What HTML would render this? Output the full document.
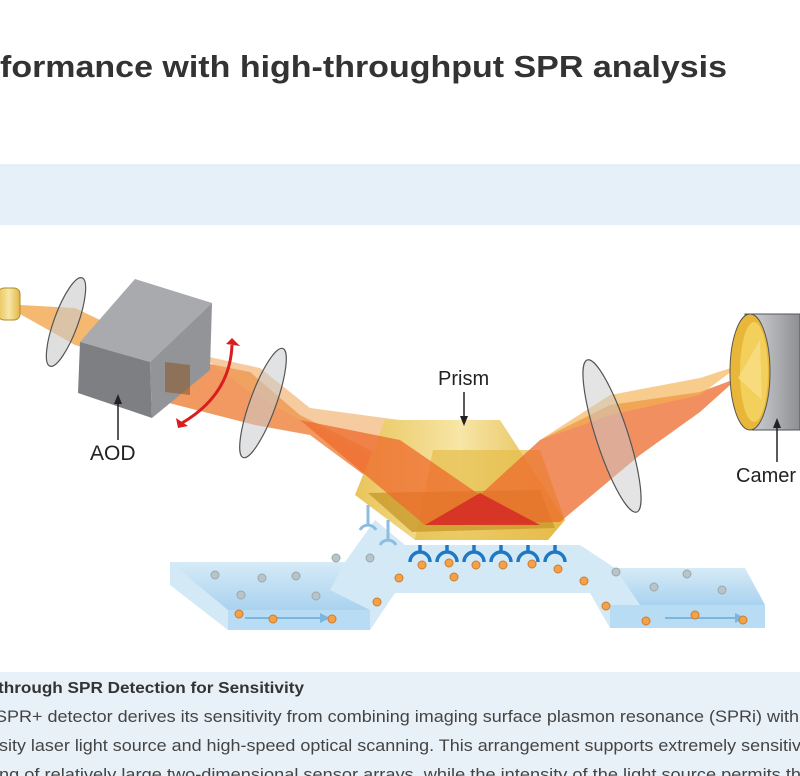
<!DOCTYPE html>
<html><head><meta charset="utf-8"><style>
html,body{margin:0;padding:0;background:#fff;width:800px;height:776px;overflow:hidden}
svg{display:block}
</style></head><body>
<svg width="800" height="776" viewBox="0 0 800 776" xmlns="http://www.w3.org/2000/svg" font-family="Liberation Sans, sans-serif">
<defs>
<linearGradient id="gold" x1="0" y1="0" x2="1" y2="0"><stop offset="0" stop-color="#e9c45a"/><stop offset="0.5" stop-color="#f7e6a6"/><stop offset="1" stop-color="#e2b746"/></linearGradient>
<linearGradient id="cam" x1="0" y1="0" x2="1" y2="0"><stop offset="0" stop-color="#d7d8da"/><stop offset="1" stop-color="#8d8f93"/></linearGradient>
<linearGradient id="chan" x1="0" y1="0" x2="0" y2="1"><stop offset="0" stop-color="#d6ebf7"/><stop offset="1" stop-color="#9fcdee"/></linearGradient>
</defs>
<rect width="800" height="776" fill="#fff"/>
<text x="0" y="77" font-size="31" font-weight="bold" fill="#333" textLength="727" lengthAdjust="spacingAndGlyphs">formance with high-throughput SPR analysis</text>
<rect x="0" y="165" width="800" height="60" fill="#e6f0f8"/>
<line x1="0" y1="165" x2="800" y2="165" stroke="#dbe8f2"/>

<!-- channel -->
<polygon points="170,562 345,562 375,520 405,545 580,545 615,568 745,568 765,605 765,628 610,628 590,593 395,593 370,630 228,630 170,585" fill="#d3e9f6"/>
<polygon points="170,562 345,562 330,590 370,610 228,610" fill="url(#chan)" opacity="0.8"/>
<polygon points="615,568 745,568 765,605 640,605" fill="url(#chan)" opacity="0.8"/>
<polygon points="228,610 370,610 370,630 228,630" fill="#b8dcf3"/>
<polygon points="610,605 765,605 765,628 610,628" fill="#b8dcf3"/>
<line x1="245" y1="618" x2="320" y2="618" stroke="#7ab6df" stroke-width="2"/>
<polygon points="320,613 330,618 320,623" fill="#7ab6df"/>
<line x1="665" y1="618" x2="735" y2="618" stroke="#7ab6df" stroke-width="2"/>
<polygon points="735,613 745,618 735,623" fill="#7ab6df"/>

<!-- beams left -->
<polygon points="20,305 75,308 100,320 100,352 75,345 20,314" fill="#f0a040" opacity="0.75"/>
<ellipse cx="66" cy="322" rx="12" ry="47" transform="rotate(20 66 322)" fill="#c9cacc" fill-opacity="0.6" stroke="#555" stroke-width="1.2"/>
<rect x="-2" y="288" width="22" height="32" rx="6" fill="url(#gold)" stroke="#b08a20"/>
<polygon points="165,355 250,372 300,415 400,465 425,520 310,435 255,425 165,402" fill="#ee7f3a" opacity="0.8"/>
<polygon points="200,355 260,368 310,408 400,420 480,495 450,500 300,420 250,392" fill="#f0a860" opacity="0.6"/>
<!-- cube -->
<polygon points="80,342 135,279 212,303 150,362" fill="#a9aaad"/>
<polygon points="80,342 150,362 152,418 78,393" fill="#7d7f83"/>
<polygon points="150,362 212,303 210,370 152,418" fill="#929497"/>
<polygon points="165,362 190,365 190,395 165,392" fill="#8a5a30" opacity="0.6"/>
<ellipse cx="263" cy="403" rx="13" ry="58" transform="rotate(20 263 403)" fill="#c9cacc" fill-opacity="0.55" stroke="#555" stroke-width="1.2"/>
<path d="M232,345 Q230,395 182,423" stroke="#d81e1e" stroke-width="3" fill="none"/>
<polygon points="226,344 240,346 232,338" fill="#d81e1e"/>
<polygon points="176,418 178,428 188,426" fill="#d81e1e"/>

<!-- prism -->
<polygon points="385,420 500,420 565,520 548,540 415,540 355,495" fill="url(#gold)"/>
<polygon points="433,450 540,450 565,520 548,540 415,540" fill="#e6be4a" opacity="0.7"/>
<polygon points="368,493 540,490 555,528 412,532" fill="#c99a2a" opacity="0.8"/>
<polygon points="300,420 400,440 480,495 425,525" fill="#ee6a2c" opacity="0.75"/>
<polygon points="480,495 540,440 610,405 700,392 738,378 700,412 640,455 560,522 425,525" fill="#ee6a2c" opacity="0.75"/>
<polygon points="425,525 480,493 540,525" fill="#d42a24" opacity="0.85"/>
<polygon points="540,440 610,395 700,378 740,365 700,395 610,415" fill="#f3b050" opacity="0.65"/>
<ellipse cx="612" cy="436" rx="16" ry="80" transform="rotate(-18 612 436)" fill="#c9cacc" fill-opacity="0.5" stroke="#555" stroke-width="1.2"/>
<!-- camera -->
<path d="M745,314 L800,314 L800,430 L752,430 Z" fill="url(#cam)" stroke="#555"/>
<ellipse cx="750" cy="372" rx="20" ry="58" fill="#e8b73a" stroke="#555"/>
<ellipse cx="754" cy="372" rx="14" ry="50" fill="#f3cf5c"/>
<polygon points="738,378 760,340 762,400" fill="#f8e08a" opacity="0.7"/>

<!-- receptors -->
<g stroke="#1f78c4" stroke-width="3.5" fill="none">
<path d="M420,545 v8 M410,562 a10,10 0 0 1 20,0"/>
<path d="M447,545 v8 M437,562 a10,10 0 0 1 20,0"/>
<path d="M474,545 v8 M464,562 a10,10 0 0 1 20,0"/>
<path d="M501,545 v8 M491,562 a10,10 0 0 1 20,0"/>
<path d="M528,545 v8 M518,562 a10,10 0 0 1 20,0"/>
<path d="M555,545 v8 M545,562 a10,10 0 0 1 20,0"/>
</g>
<g stroke="#8cbde0" stroke-width="3" fill="none">
<path d="M368,505 v20 M360,530 a9,9 0 0 1 16,0"/>
<path d="M388,520 v20 M380,545 a9,9 0 0 1 16,0"/>
</g>
<!-- dots -->
<g fill="#f3a24a" stroke="#d07a2a" stroke-width="1">
<circle cx="422" cy="565" r="4"/><circle cx="449" cy="563" r="4"/><circle cx="476" cy="565" r="4"/><circle cx="503" cy="565" r="4"/><circle cx="532" cy="564" r="4"/><circle cx="558" cy="569" r="4"/>
<circle cx="454" cy="577" r="4"/><circle cx="399" cy="578" r="4"/><circle cx="584" cy="581" r="4"/><circle cx="377" cy="602" r="4"/><circle cx="606" cy="606" r="4"/><circle cx="239" cy="614" r="4"/><circle cx="273" cy="619" r="4"/><circle cx="332" cy="619" r="4"/><circle cx="646" cy="621" r="4"/><circle cx="695" cy="615" r="4"/><circle cx="743" cy="620" r="4"/>
</g>
<g fill="#b8c4c8" stroke="#9aa8ad" stroke-width="1">
<circle cx="215" cy="575" r="4"/><circle cx="262" cy="578" r="4"/><circle cx="296" cy="576" r="4"/><circle cx="241" cy="595" r="4"/><circle cx="316" cy="596" r="4"/><circle cx="336" cy="558" r="4"/><circle cx="370" cy="558" r="4"/><circle cx="616" cy="572" r="4"/><circle cx="687" cy="574" r="4"/><circle cx="654" cy="587" r="4"/><circle cx="722" cy="590" r="4"/>
</g>

<!-- labels -->
<g fill="#222" stroke="#222" stroke-width="1.5">
<line x1="118" y1="400" x2="118" y2="440"/><polygon points="114,404 118,394 122,404" stroke="none"/>
<line x1="464" y1="392" x2="464" y2="420"/><polygon points="460,416 464,426 468,416" stroke="none"/>
<line x1="777" y1="424" x2="777" y2="462"/><polygon points="773,428 777,418 781,428" stroke="none"/>
</g>
<text x="90" y="460" font-size="21" fill="#222">AOD</text>
<text x="438" y="385" font-size="20" fill="#222">Prism</text>
<text x="736" y="482" font-size="20" fill="#222">Camer</text>

<!-- bottom text -->
<rect x="0" y="672" width="800" height="104" fill="#e9f1f8"/>
<text x="-2" y="693" font-size="16" font-weight="bold" fill="#333" textLength="306" lengthAdjust="spacingAndGlyphs">through SPR Detection for Sensitivity</text>
<g font-size="17" fill="#444">
<text x="-5" y="722" textLength="804" lengthAdjust="spacingAndGlyphs">SPR+ detector derives its sensitivity from combining imaging surface plasmon resonance (SPRi) with</text>
<text x="-1" y="751" textLength="802" lengthAdjust="spacingAndGlyphs">sity laser light source and high-speed optical scanning. This arrangement supports extremely sensitiv</text>
<text x="-1" y="780" textLength="802" lengthAdjust="spacingAndGlyphs">ng of relatively large two-dimensional sensor arrays, while the intensity of the light source permits th</text>
</g>
</svg>
</body></html>
